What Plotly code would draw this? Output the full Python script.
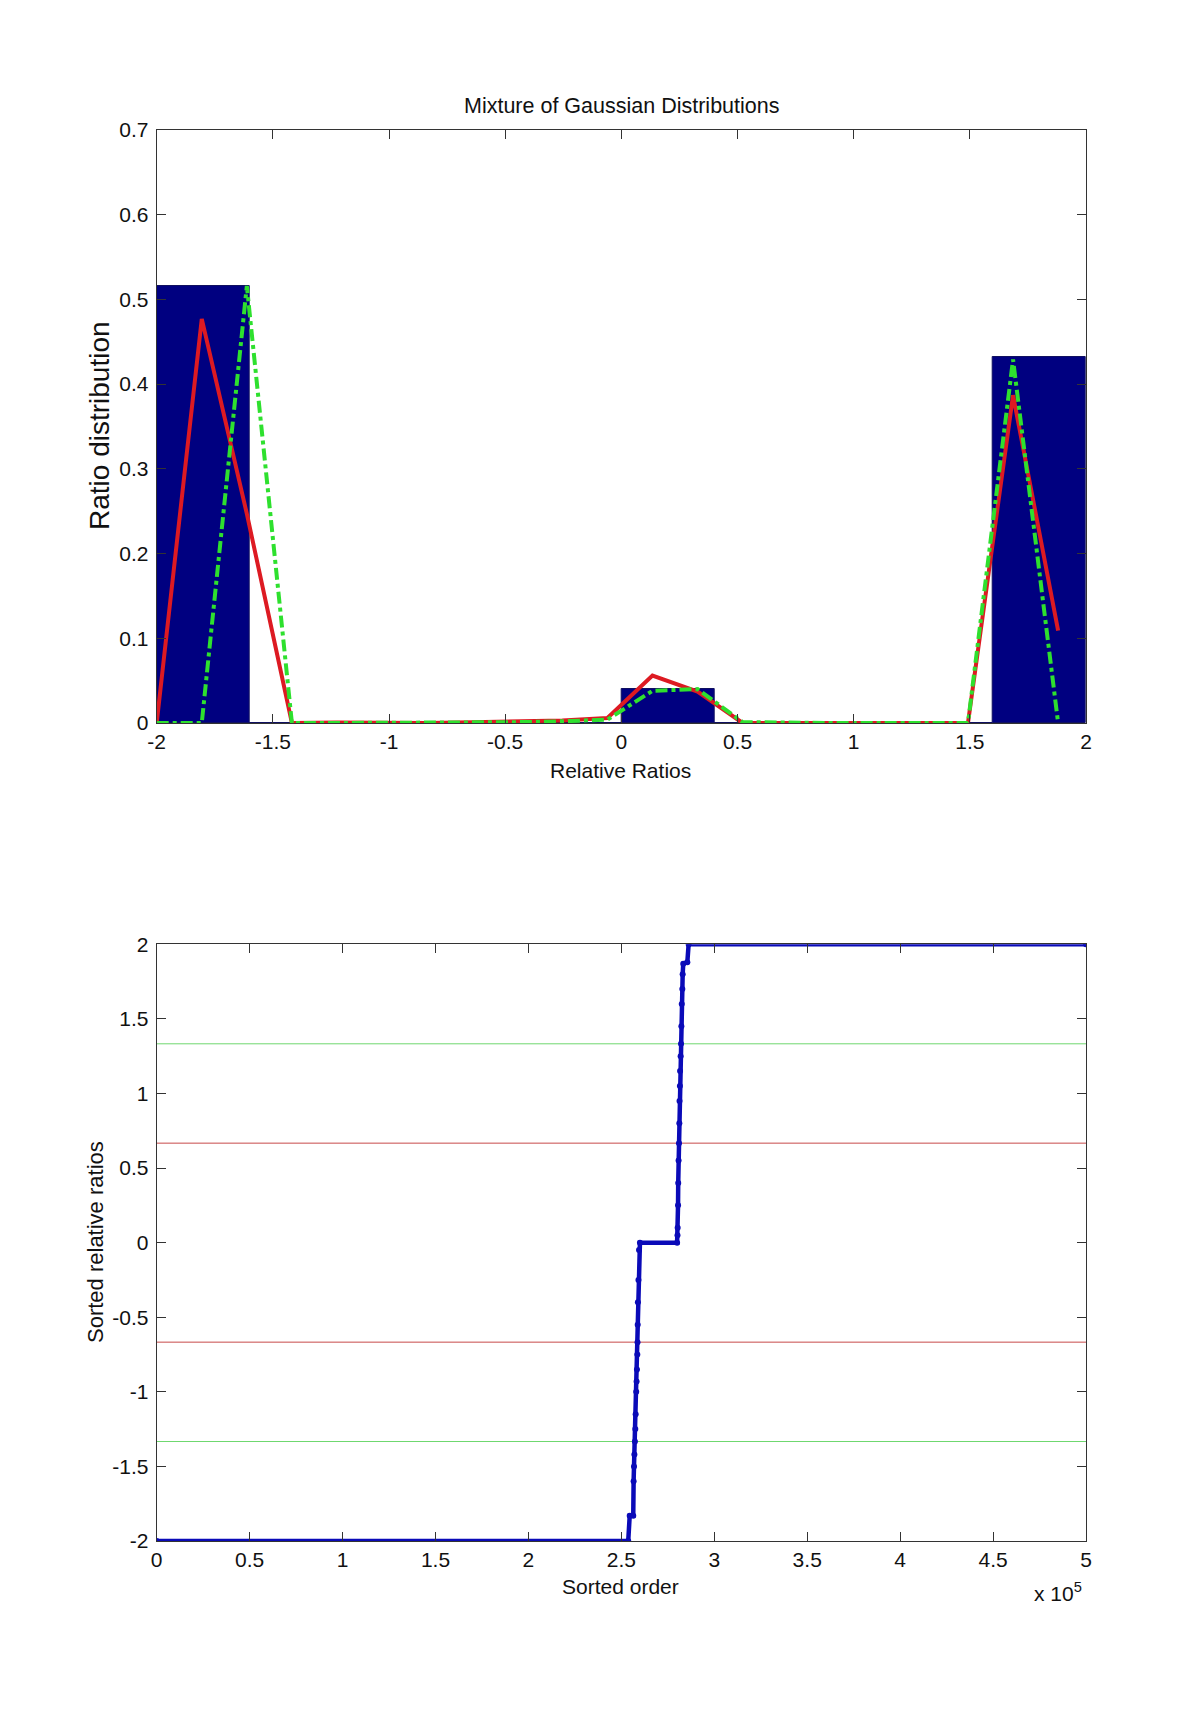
import plotly.graph_objects as go

# ---------------- data: top panel ----------------
bin_centers = [-1.8, -1.4, -1.0, -0.6, -0.2, 0.2, 0.6, 1.0, 1.4, 1.8]
bin_heights = [0.516, 0.0, 0.0, 0.0, 0.0, 0.04, 0.0, 0.0, 0.0, 0.432]

fit_x = [-2.0, -1.806, -1.612, -1.418, -1.224, -1.03, -0.836, -0.642, -0.448, -0.254,
         -0.06, 0.134, 0.328, 0.522, 0.716, 0.91, 1.104, 1.298, 1.492, 1.686, 1.88]
red_fit = [0.0, 0.477, 0.247, 0.0, 0.0005, 0.0, 0.0, 0.001, 0.002, 0.003,
           0.006, 0.056, 0.037, 0.0, 0.0, 0.0, 0.0, 0.0, 0.0, 0.387, 0.109]
green_fit = [0.0, 0.0, 0.516, 0.0, 0.0, 0.0, 0.0, 0.0, 0.001, 0.002,
             0.004, 0.038, 0.040, 0.001, 0.0, 0.0, 0.0, 0.0, 0.0, 0.429, 0.0]

top_xticks = [-2, -1.5, -1, -0.5, 0, 0.5, 1, 1.5, 2]
top_xticklabels = ["-2", "-1.5", "-1", "-0.5", "0", "0.5", "1", "1.5", "2"]
top_yticks = [0, 0.1, 0.2, 0.3, 0.4, 0.5, 0.6, 0.7]
top_yticklabels = ["0", "0.1", "0.2", "0.3", "0.4", "0.5", "0.6", "0.7"]

# ---------------- data: bottom panel ----------------
sorted_order = [0, 253700, 254500, 256400, 256600, 256800, 257000, 257300, 257500,
                257700, 258000, 258200, 258400, 258600, 258700, 258800, 258900,
                259200, 259500, 260000, 280000, 280200, 280300, 280500, 280600,
                280800, 281000, 281200, 281300, 281500, 281600, 281900, 282100,
                282300, 282500, 282800, 283000, 283300, 285500, 286200, 500000]
sorted_ratio = [-2.0, -2.0, -1.83, -1.83, -1.6, -1.5, -1.42, -1.333, -1.25,
                -1.15, -1.0, -0.93, -0.85, -0.75, -0.667, -0.55, -0.4,
                -0.25, -0.05, 0.0, 0.0, 0.05, 0.1, 0.25, 0.4,
                0.55, 0.667, 0.8, 0.95, 1.05, 1.15, 1.25, 1.333,
                1.45, 1.6, 1.7, 1.8, 1.87, 1.88, 2.0, 2.0]
green_levels = [1.333, -1.333]
red_levels = [0.667, -0.667]

bot_xticks = [0, 50000, 100000, 150000, 200000, 250000, 300000, 350000, 400000, 450000, 500000]
bot_xticklabels = ["0", "0.5", "1", "1.5", "2", "2.5", "3", "3.5", "4", "4.5", "5"]
bot_yticks = [-2, -1.5, -1, -0.5, 0, 0.5, 1, 1.5, 2]
bot_yticklabels = ["-2", "-1.5", "-1", "-0.5", "0", "0.5", "1", "1.5", "2"]

# ---------------- figure ----------------
W, H = 1200, 1730
ML, MR, MT, MB = 100, 100, 100, 100
PW, PH = W - ML - MR, H - MT - MB
OFF = 8  # page body margin offset
FONT = "Liberation Sans, Arial, sans-serif"


def px(x):
    return (x - OFF - ML) / PW


def py(y):
    return 1 - (y - OFF - MT) / PH


fig = go.Figure()

fig.add_trace(go.Bar(x=bin_centers, y=bin_heights, width=0.4,
                     marker=dict(color="#000080", line=dict(color="#101060", width=1)),
                     xaxis="x", yaxis="y", showlegend=False))
fig.add_trace(go.Scatter(x=fit_x, y=red_fit, mode="lines",
                         line=dict(color="#dd1a22", width=4),
                         xaxis="x", yaxis="y", showlegend=False))
fig.add_trace(go.Scatter(x=fit_x, y=green_fit, mode="lines",
                         line=dict(color="#2ee02e", width=4, dash="dashdot"),
                         xaxis="x", yaxis="y", showlegend=False))

for lv in green_levels:
    fig.add_trace(go.Scatter(x=[0, 500000], y=[lv, lv], mode="lines",
                             line=dict(color="#6fd86f", width=1),
                             xaxis="x2", yaxis="y2", showlegend=False))
for lv in red_levels:
    fig.add_trace(go.Scatter(x=[0, 500000], y=[lv, lv], mode="lines",
                             line=dict(color="#c84a4a", width=1),
                             xaxis="x2", yaxis="y2", showlegend=False))
fig.add_trace(go.Scatter(x=sorted_order, y=sorted_ratio, mode="lines+markers",
                         line=dict(color="#0a0ab8", width=4.5),
                         marker=dict(color="#0a0ab8", size=6),
                         xaxis="x2", yaxis="y2", showlegend=False))

xd = [px(156.7), px(1086)]
top_dom = [py(723), py(130)]
bot_dom = [py(1541), py(944.3)]

axis_common = dict(showline=True, linecolor="#333333", linewidth=1, mirror="ticks",
                   ticks="inside", ticklen=9, tickcolor="#333333", tickwidth=1,
                   showgrid=False, zeroline=False, automargin=False,
                   tickfont=dict(family=FONT, size=21, color="#111111"))

fig.update_layout(
    width=W, height=H, margin=dict(l=ML, r=MR, t=MT, b=MB, autoexpand=False),
    paper_bgcolor="white", plot_bgcolor="white", bargap=0,
    xaxis=dict(domain=xd, anchor="y", range=[-2, 2], tickvals=top_xticks,
               ticktext=top_xticklabels, **axis_common),
    yaxis=dict(domain=top_dom, anchor="x", range=[0, 0.7], tickvals=top_yticks,
               ticktext=top_yticklabels, ticklabelstandoff=3, **axis_common),
    xaxis2=dict(domain=xd, anchor="y2", range=[0, 500000], tickvals=bot_xticks,
                ticktext=bot_xticklabels, **axis_common),
    yaxis2=dict(domain=bot_dom, anchor="x2", range=[-2, 2], tickvals=bot_yticks,
                ticktext=bot_yticklabels, ticklabelstandoff=3, **axis_common),
)


def ann(text, x, y, size=21, angle=0):
    fig.add_annotation(text=text, x=px(x), y=py(y), xref="paper", yref="paper",
                       showarrow=False, textangle=angle, xanchor="center", yanchor="middle",
                       font=dict(family=FONT, size=size, color="#111111"))


ann("Mixture of Gaussian Distributions", 621, 106, size=21.5)
ann("Relative Ratios", 620, 770)
ann("Ratio distribution", 99, 426, size=28, angle=-90)
ann("Sorted order", 620, 1586)
ann("Sorted relative ratios", 95, 1242, size=22, angle=-90)
ann("x 10<sup>5</sup>", 1058, 1592, size=21)

fig.write_html("out.html")
